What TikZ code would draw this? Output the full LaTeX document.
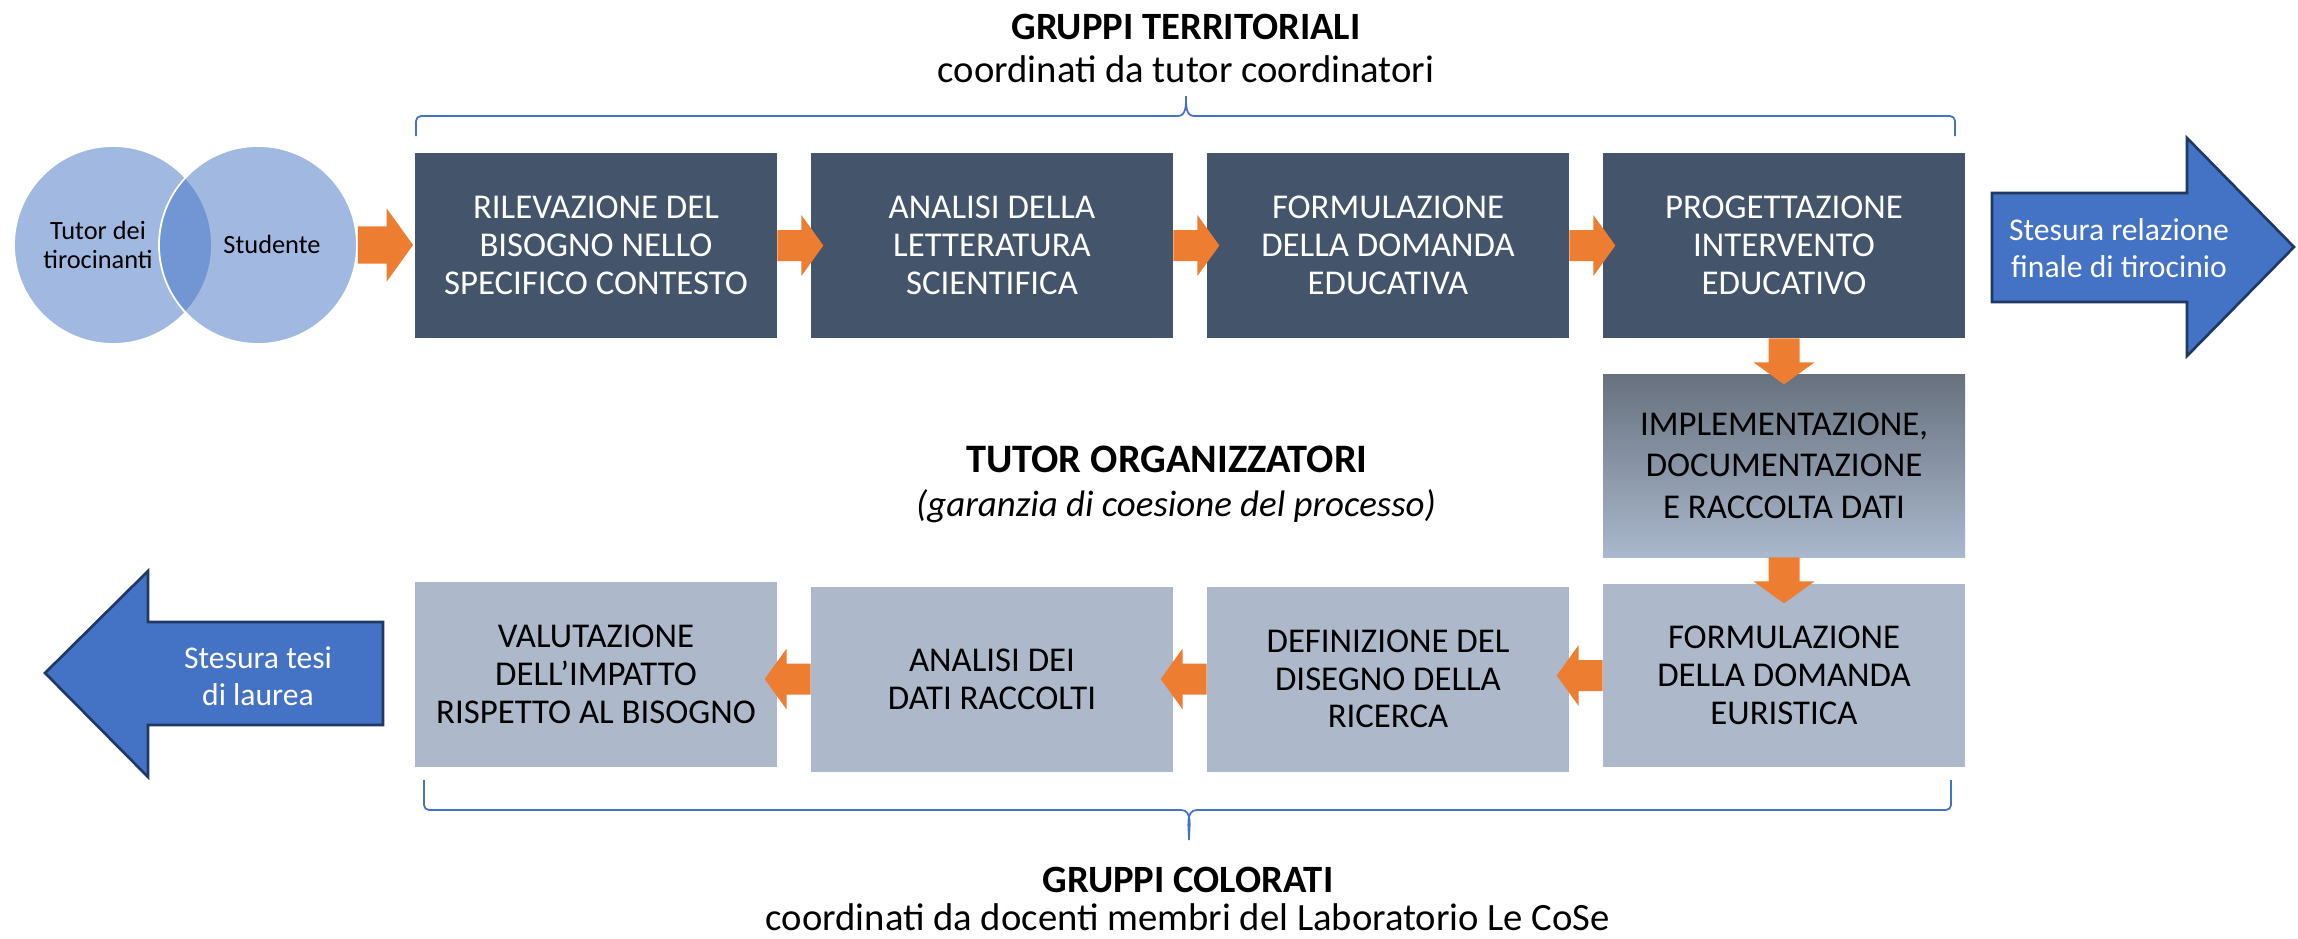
\documentclass[tikz,border=0pt]{standalone}
\usepackage{fontspec}
\setmainfont{Carlito}
\usetikzlibrary{calc}

\definecolor{boxdark}{HTML}{44546A}
\definecolor{boxlight}{HTML}{ADB9CA}
\definecolor{gradtop}{HTML}{67717F}
\definecolor{gradbot}{HTML}{AAB8CC}
\definecolor{flowor}{HTML}{ED7D31}
\definecolor{bigblue}{HTML}{4472C4}
\definecolor{bigblueline}{HTML}{1F3864}

% orange block arrow: [scale]{start}{direction}
\newcommand{\orangearrow}[3][1]{%
  \fill[flowor,shift={(#2)},rotate=#3,scale=#1]
    (0,-0.31) -- (0.48,-0.31) -- (0.48,-0.61) -- (0.92,0) -- (0.48,0.61) -- (0.48,0.31) -- (0,0.31) -- cycle;}

\begin{document}
\begin{tikzpicture}[
  stepdark/.style={rectangle,fill=boxdark,text=white,minimum width=7.24cm,minimum height=3.7cm,
    inner sep=0pt,align=center,font={\fontsize{19.8}{21.5}\selectfont}},
  steplight/.style={stepdark,fill=boxlight,text=black},
  stepgrad/.style={stepdark,fill=none,top color=gradtop,bottom color=gradbot,text=black,
    minimum height=3.66cm,font={\fontsize{19.8}{23.7}\selectfont}},
  venn/.style={circle,minimum size=3.96cm,inner sep=0pt,fill=bigblue,fill opacity=0.5,draw=white,line width=1pt},
  venntext/.style={align=center,font={\fontsize{15}{16.5}\selectfont}},
  bigarrow/.style={fill=bigblue,draw=bigblueline,line width=1.5pt,line join=miter},
  arrowtext/.style={align=center,text=white,font={\fontsize{18}{21}\selectfont}},
  titlebold/.style={font={\fontsize{22}{26}\selectfont\bfseries}},
  titleplain/.style={font={\fontsize{22}{26}\selectfont}},
  brace/.style={draw=bigblue,line width=1pt},
]
\useasboundingbox (0,0) rectangle (45.96,-18.76);

% heading top
\node[titlebold,anchor=base] (terr) at (23.72,-0.78) {GRUPPI TERRITORIALI};
\node[titleplain,anchor=base] (terrsub) at (23.72,-1.64) {coordinati da tutor coordinatori};
\draw[brace] (8.32,-2.72) -- (8.32,-2.42) to[out=90,in=180] (8.42,-2.32) -- (23.56,-2.32)
  to[out=0,in=-90] (23.72,-1.92) to[out=-90,in=180] (23.88,-2.32) -- (39.0,-2.32)
  to[out=0,in=90] (39.1,-2.42) -- (39.1,-2.72);

% venn
\node[venn] (tutor) at (2.26,-4.90) {};
\node[venn] (stud) at (5.16,-4.90) {};
\node[venntext] (tutorlab) at (1.96,-4.90) {Tutor dei\\tirocinanti};
\node[venntext] (studlab) at (5.44,-4.88) {Studente};

% first row
\node[stepdark] (rilev) at (11.92,-4.91) {RILEVAZIONE DEL\\BISOGNO NELLO\\SPECIFICO CONTESTO};
\node[stepdark] (letter) at (19.84,-4.91) {ANALISI DELLA\\LETTERATURA\\SCIENTIFICA};
\node[stepdark] (domed) at (27.76,-4.91) {FORMULAZIONE\\DELLA DOMANDA\\EDUCATIVA};
\node[stepdark] (proget) at (35.68,-4.91) {PROGETTAZIONE\\INTERVENTO\\EDUCATIVO};

% right column and second row
\node[stepgrad] (implem) at (35.68,-9.31) {IMPLEMENTAZIONE,\\DOCUMENTAZIONE\\E RACCOLTA DATI};
\node[steplight,minimum height=3.66cm] (domeur) at (35.68,-13.51) {FORMULAZIONE\\DELLA DOMANDA\\EURISTICA};
\node[steplight] (disegno) at (27.76,-13.58) {DEFINIZIONE DEL\\DISEGNO DELLA\\RICERCA};
\node[steplight] (dati) at (19.84,-13.58) {ANALISI DEI\\DATI RACCOLTI};
\node[steplight] (valut) at (11.92,-13.49) {VALUTAZIONE\\DELL’IMPATTO\\RISPETTO AL BISOGNO};

% orange arrows
\orangearrow[1.2]{stud.east}{0}
\orangearrow{rilev.east}{0}
\orangearrow{letter.east}{0}
\orangearrow{domed.east}{0}
\orangearrow{proget.south}{-90}
\orangearrow{implem.south}{-90}
\orangearrow{domeur.west}{180}
\orangearrow{disegno.west}{180}
\orangearrow{dati.west}{180}

% big blue arrows
\draw[bigarrow] (39.84,-3.86) -- (43.74,-3.86) -- (43.74,-2.76) -- (45.88,-4.94)
  -- (43.74,-7.12) -- (43.74,-6.04) -- (39.84,-6.04) -- cycle;
\node[arrowtext] (relaz) at (42.38,-4.96) {Stesura relazione\\finale di tirocinio};
\draw[bigarrow] (7.66,-12.44) -- (2.96,-12.44) -- (2.96,-11.42) -- (0.9,-13.46)
  -- (2.96,-15.54) -- (2.96,-14.5) -- (7.66,-14.5) -- cycle;
\node[arrowtext] (tesi) at (5.16,-13.52) {Stesura tesi\\di laurea};

% middle labels
\node[font={\fontsize{23}{27}\selectfont\bfseries},anchor=base] (tutorg) at (23.34,-9.44) {TUTOR ORGANIZZATORI};
\node[font={\fontsize{21}{25}\selectfont\itshape},anchor=base] (garanz) at (23.52,-10.32) {(garanzia di coesione del processo)};

% heading bottom
\draw[brace] (8.48,-15.6) -- (8.48,-16.1) to[out=-90,in=180] (8.58,-16.2) -- (23.62,-16.2)
  to[out=0,in=90] (23.78,-16.8) to[out=90,in=180] (23.94,-16.2) -- (38.92,-16.2)
  to[out=0,in=-90] (39.02,-16.1) -- (39.02,-15.6);
\node[titlebold,anchor=base] (color) at (23.76,-17.84) {GRUPPI COLORATI};
\node[titleplain,anchor=base] (colorsub) at (23.76,-18.6) {coordinati da docenti membri del Laboratorio Le CoSe};
\end{tikzpicture}
\end{document}
